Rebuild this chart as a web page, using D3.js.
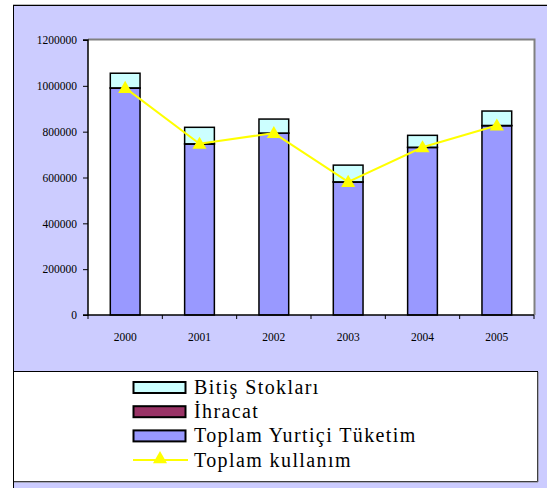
<!DOCTYPE html>
<html><head><meta charset="utf-8">
<script src="https://cdn.jsdelivr.net/npm/d3@7"></script>
<style>
html,body{margin:0;padding:0;background:#fff;}
svg{display:block;}
svg text{font-family:"Liberation Serif","Times New Roman",Times,serif;}
</style></head>
<body>
<script>
const years = ["2000","2001","2002","2003","2004","2005"];
const domestic = [990000, 746000, 793000, 580000, 731000, 826000];
const exportsV = [1000, 1000, 1000, 1000, 1000, 1000];
const stocks = [64000, 72000, 61000, 73000, 52000, 63000];
const usage = [991000, 747000, 794000, 581000, 732000, 827000];
const yTicks = [0, 200000, 400000, 600000, 800000, 1000000, 1200000];
const seriesNames = ["Bitiş Stokları", "İhracat", "Toplam Yurtiçi Tüketim", "Toplam kullanım"];
const colors = {stocks:"#CCFFFF", exports:"#993366", domestic:"#9999FF", line:"#FFFF00"};

const W = 547, H = 488;
const svg = d3.select("body").append("svg").attr("width", W).attr("height", H);

// chart area
svg.append("rect").attr("x",13.5).attr("y",5.5).attr("width",W).attr("height",H)
  .attr("fill","#CCCCFF").attr("stroke","#000").attr("stroke-width",1);
svg.append("line").attr("x1",13).attr("x2",W).attr("y1",4.5).attr("y2",4.5).attr("stroke","#bbb");

const plot = {l:88, r:534, t:40, b:315};
const x = d3.scaleBand().domain(years).range([plot.l, plot.r]).padding(0);
const y = d3.scaleLinear().domain([0,1200000]).range([plot.b, plot.t]);

// plot area
svg.append("rect").attr("x",plot.l).attr("y",plot.t).attr("width",plot.r-plot.l).attr("height",plot.b-plot.t)
  .attr("fill","#fff");
svg.append("path").attr("d",`M${plot.l},${plot.t-0.5}H${plot.r+0.5}V${plot.b}`)
  .attr("fill","none").attr("stroke","#808080").attr("stroke-width",2);

// bars
const bw = x.bandwidth()*0.4;
const data = years.map((yr,i)=>({yr, d:domestic[i], e:exportsV[i], s:stocks[i], u:usage[i]}));
const g = svg.append("g");
data.forEach(o=>{
  const x0 = x(o.yr) + (x.bandwidth()-bw)/2;
  const segs = [
    {v0:0, v1:o.d, c:colors.domestic},
    {v0:o.d, v1:o.d+o.e, c:colors.exports},
    {v0:o.d+o.e, v1:o.d+o.e+o.s, c:colors.stocks}
  ];
  segs.forEach(s=>{
    g.append("rect").attr("x",x0).attr("width",bw)
      .attr("y",y(s.v1)).attr("height",Math.max(0,y(s.v0)-y(s.v1)))
      .attr("fill",s.c).attr("stroke","#000").attr("stroke-width",1.5);
  });
});

// axes
const yAxis = d3.axisLeft(y).tickValues(yTicks).tickSize(5).tickPadding(6).tickFormat(d3.format("d"));
const ya = svg.append("g").attr("transform",`translate(${plot.l},0)`).call(yAxis);
const xAxis = d3.axisBottom(x).tickSize(0).tickPadding(18);
const xa = svg.append("g").attr("transform",`translate(0,${plot.b})`).call(xAxis);
// boundary ticks
xa.selectAll(".bt").data(d3.range(years.length+1)).enter().append("line")
  .attr("x1",i=>plot.l + x.step()*i).attr("x2",i=>plot.l + x.step()*i)
  .attr("y1",0).attr("y2",4).attr("stroke","#000");
[ya,xa].forEach(a=>{
  a.attr("font-family",null).attr("font-size",null);
  a.select(".domain").attr("stroke","#000").attr("stroke-width",1.5);
  a.selectAll("text").style("font-size","11.5px").attr("fill","#000");
  a.selectAll(".tick line").attr("stroke","#000");
});
ya.select(".domain").attr("d",`M-5,${plot.t}H0V${plot.b}H-5`);
xa.select(".domain").attr("d",`M${plot.l},0H${plot.r}`);

// line
const line = d3.line().x(d=>x(d.yr)+x.bandwidth()/2).y(d=>y(d.u));
svg.append("path").datum(data).attr("d",line).attr("fill","none").attr("stroke",colors.line).attr("stroke-width",2);
const tri = d3.symbol().type(d3.symbolTriangle).size(85);
svg.selectAll(".mk").data(data).enter().append("path")
  .attr("transform",d=>`translate(${x(d.yr)+x.bandwidth()/2},${y(d.u)+1})`)
  .attr("d",tri).attr("fill",colors.line);

// legend
const lg = svg.append("g");
lg.append("rect").attr("x",13.5).attr("y",371.5).attr("width",524).attr("height",110)
  .attr("fill","#fff").attr("stroke","#000");
lg.append("path").attr("d","M538,372V482H14").attr("fill","none").attr("stroke","#808080").attr("stroke-width",1);
const rows = [
  {name:seriesNames[0], c:colors.stocks, type:"rect"},
  {name:seriesNames[1], c:colors.exports, type:"rect"},
  {name:seriesNames[2], c:colors.domestic, type:"rect"},
  {name:seriesNames[3], c:colors.line, type:"line"}
];
rows.forEach((r,i)=>{
  const cy = 387.5 + i*24.2;
  if(r.type==="rect"){
    lg.append("rect").attr("x",133.5).attr("y",cy-5.5).attr("width",52).attr("height",11)
      .attr("fill",r.c).attr("stroke","#000").attr("stroke-width",2);
  } else {
    lg.append("line").attr("x1",133).attr("x2",188).attr("y1",cy).attr("y2",cy).attr("stroke",r.c).attr("stroke-width",2);
    lg.append("path").attr("transform",`translate(160,${cy-1})`).attr("d",d3.symbol().type(d3.symbolTriangle).size(85)).attr("fill",r.c);
  }
  lg.append("text").attr("x",194).attr("y",cy+6.5).text(r.name)
    .style("font-size","20px").style("letter-spacing","1.4px").attr("fill","#000");
});
</script>
</body></html>
